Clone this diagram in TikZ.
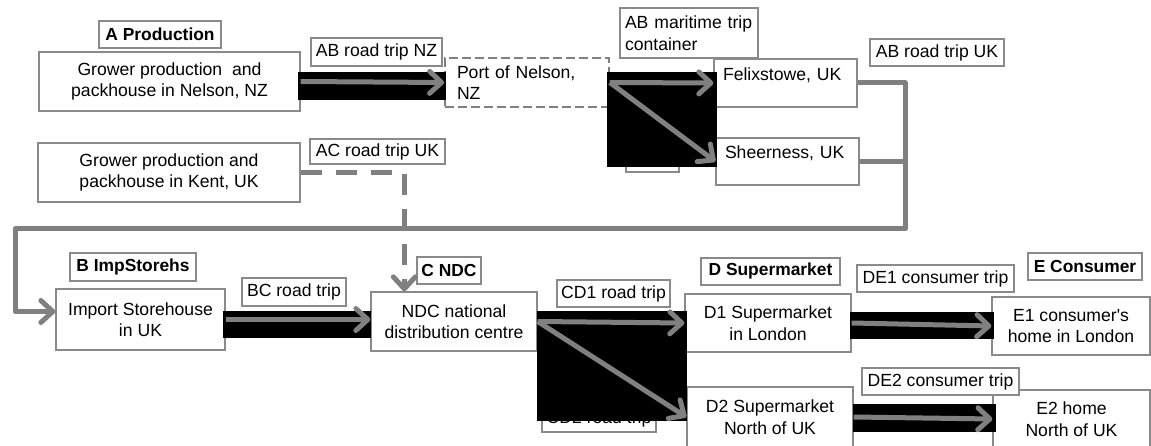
\documentclass[tikz,border=0pt]{standalone}
\usepackage{fontspec}
\setmainfont{Liberation Sans}
\usetikzlibrary{arrows.meta}
\definecolor{cgray}{RGB}{128,128,128}
\definecolor{bgray}{RGB}{138,138,138}
\tikzset{
  box/.style={draw=bgray, line width=1.3pt, fill=white, inner sep=0pt, align=center,
    font=\fontsize{17.6}{21.5}\selectfont, text=black},
  hdr/.style={box, font=\fontsize{17.4}{21.5}\selectfont\bfseries},
  line/.style={draw=cgray, line width=5pt, line join=round},
  conn/.style={line, -{Straight Barb[length=12pt,width=22pt,round]}},
  dashconn/.style={conn, dash pattern=on 21pt off 14pt},
  blk/.style={fill=black},
}
\begin{document}
\begin{tikzpicture}[x=1pt,y=-1pt]
\useasboundingbox (0,0) rectangle (1151,446);
% main boxes
\node[box, minimum width=261pt, minimum height=59pt] (gnz) at (169.5,81.5) {Grower production~ and\\packhouse in Nelson, NZ};
\node[box, minimum width=262pt, minimum height=59pt] (kent) at (169,172.5) {Grower production and\\packhouse in Kent, UK};
\node[box, draw=cgray, dash pattern=on 9pt off 4pt, line width=1.8pt, text width=140pt, align=left, inner xsep=12pt, minimum height=49pt] (port) at (527,82.5) {Port of Nelson,\\NZ};
\node[box, text width=125pt, align=left, inner xsep=9pt, inner ysep=0pt, text height=22pt, text depth=26pt] (felix) at (785.5,83) {Felixstowe, UK};
\node[box, text width=125pt, align=left, inner xsep=9pt, inner ysep=0pt, text height=21pt, text depth=26pt] (sheer) at (787.5,161.5) {Sheerness, UK};
\node[box, minimum width=169pt, minimum height=61pt] (imp) at (140.5,319.5) {Import Storehouse\\in UK};
\node[box, minimum width=166pt, minimum height=59pt] (ndc) at (454,321.5) {NDC national\\distribution centre};
\node[box, minimum width=166pt, minimum height=58pt] (d1) at (768,323) {D1 Supermarket\\in London};
\node[box, minimum width=166pt, minimum height=60pt] (d2) at (770,417) {D2 Supermarket\\North of UK};
\node[box, minimum width=158pt, minimum height=58pt] (e1) at (1071,326) {E1 consumer\textquotesingle s\\home in London};
\node[box, minimum width=157pt, minimum height=58pt] (e2) at (1071.5,419) {E2 home\\North of UK};
% stage headers
\node[hdr, minimum width=122pt, minimum height=27pt] (hA) at (160,34.5) {A Production};
\node[hdr, minimum width=126pt, minimum height=28pt] (hB) at (133,267) {B ImpStorehs};
\node[hdr, minimum width=64pt, minimum height=27pt] (hC) at (449,270.5) {C NDC};
\node[hdr, minimum width=139pt, minimum height=27pt] (hD) at (770.5,271.5) {D Supermarket};
\node[hdr, minimum width=114pt, minimum height=27pt] (hE) at (1085,266.5) {E Consumer};
% trip labels
\node[box, minimum width=131pt, minimum height=28pt] (lABnz) at (376.5,52) {AB road trip NZ};
\node[box, text width=128pt, align=left, inner xsep=5pt, minimum height=50pt] (lABm) at (689,33) {AB maritime trip\\container};
\node[box, minimum width=134pt, minimum height=27pt] (lABuk) at (937,52.5) {AB road trip UK};
\node[box, minimum width=135pt, minimum height=25pt] (lAC) at (377.5,151.5) {AC road trip UK};
\node[box, minimum width=104pt, minimum height=28pt] (lBC) at (294,292) {BC road trip};
\node[box, minimum width=113pt, minimum height=27pt] (lCD1) at (613.5,293.5) {CD1 road trip};
\node[box, minimum width=114pt, minimum height=26pt] (lCD2) at (599,419) {CD2 road trip};
\node[box, minimum width=157pt, minimum height=27pt] (lDE1) at (935.5,278.5) {DE1 consumer trip};
\node[box, minimum width=157pt, minimum height=27pt] (lDE2) at (940.5,381.5) {DE2 consumer trip};
\node[box, minimum width=53pt, minimum height=27pt] (lhid) at (652.5,158.5) {};
% black areas
\fill[blk] (298,72) rectangle (446,100);
\fill[blk] (607,72) rectangle (717,167);
\fill[blk] (223,311) rectangle (371,338);
\fill[blk] (537,311) rectangle (687,421);
\fill[blk] (850,312) rectangle (994,339);
\fill[blk] (853,404) rectangle (996,432);
% connectors
\coordinate (rr) at (905,229);
\coordinate (ll) at (15,229);
\draw[conn] (gnz.east) -- (port.west);
\draw[conn] (port.east) -- (felix.west);
\draw[conn] (port.east) -- (sheer.west);
\draw[conn] (felix.east) -| (rr) -- (ll) |- ([yshift=8pt]imp.west);
\draw[line] (sheer.east) -- (sheer.east -| rr);
\draw[dashconn] (kent.east) -| ([xshift=34pt]ndc.north west);
\draw[conn] (imp.east) -- (imp.east -| ndc.west);
\draw[conn] (ndc.east) -- (d1.west);
\draw[conn] (ndc.east) -- (d2.west);
\draw[conn] (d1.east) -- (e1.west);
\draw[conn] (d2.east) -- (e2.west);
\end{tikzpicture}
\end{document}
